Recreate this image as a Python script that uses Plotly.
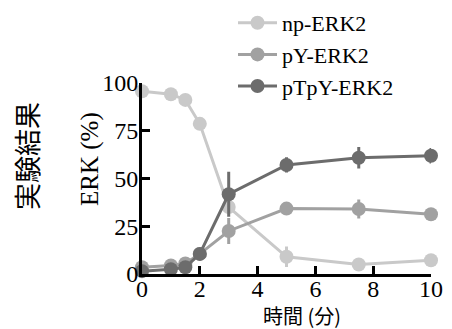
import plotly.graph_objects as go

time_min = [0, 1, 1.5, 2, 3, 5, 7.5, 10]
np_erk2 = [95.5, 94, 91, 78.5, 35, 9, 5, 7.2]
np_err = [1, 1, 1.5, 1.5, 3, 5.4, 1.5, 1.5]
py_erk2 = [3.5, 4.5, 5.5, 10.5, 22.5, 34.2, 34, 31.2]
py_err = [0.5, 0.5, 0.5, 1, 6.8, 1.5, 5, 1.5]
ptpy_erk2 = [1.5, 2.5, 3.5, 10.5, 41.7, 57, 60.8, 61.8]
ptpy_err = [0.5, 0.5, 0.5, 1, 11.8, 4, 5.6, 4]

series = [
    ("np-ERK2", np_erk2, np_err, "#c9c9c9"),
    ("pY-ERK2", py_erk2, py_err, "#a1a1a1"),
    ("pTpY-ERK2", ptpy_erk2, ptpy_err, "#6c6c6c"),
]

x_ticks = [0, 2, 4, 6, 8, 10]
y_ticks = [0, 25, 50, 75, 100]

SERIF = "Liberation Serif, Times New Roman, serif"
CJK = "Noto Sans CJK JP"
W, H = 452, 329

fig = go.Figure()
for name, vals, errs, col in series:
    fig.add_trace(go.Scatter(
        x=time_min, y=vals, name=name, mode="lines+markers",
        line=dict(color=col, width=3),
        marker=dict(color=col, size=14),
        error_y=dict(type="data", array=errs, color=col, thickness=3, width=0),
        cliponaxis=False,
    ))

fig.update_layout(
    width=W, height=H,
    margin=dict(l=0, r=0, t=0, b=0, autoexpand=False),
    paper_bgcolor="white", plot_bgcolor="white",
    showlegend=True,
    legend=dict(
        x=233 / W, y=1 - 2 / H, xanchor="left", yanchor="top",
        font=dict(family=SERIF, size=22, color="#000"),
        bgcolor="rgba(0,0,0,0)", tracegroupgap=0,
        itemwidth=39,
    ),
    font=dict(family=SERIF, size=24, color="#000"),
)
fig.update_xaxes(
    domain=[142 / W, 431 / W],
    range=[0, 10], tickvals=x_ticks, showgrid=False, zeroline=False,
    showline=True, linecolor="black", linewidth=3,
    ticks="inside", ticklen=8, tickwidth=3, tickcolor="black",
    tickfont=dict(family=SERIF, size=24, color="#000"),
    ticklabelstandoff=-9,
    automargin=False,
)
fig.update_yaxes(
    domain=[1 - 274 / H, 1 - 82.7 / H],
    range=[0, 100], tickvals=y_ticks, showgrid=False, zeroline=False,
    showline=True, linecolor="black", linewidth=3,
    ticks="inside", ticklen=8, tickwidth=3, tickcolor="black",
    tickfont=dict(family=SERIF, size=24, color="#000"),
    ticklabelstandoff=-4,
    automargin=False,
)

fig.add_annotation(text="時間 (分)", xref="paper", yref="paper",
                   x=302 / W, y=1 - 315.5 / H,
                   xanchor="center", yanchor="middle", showarrow=False,
                   font=dict(family=CJK, size=20, color="#000"))
fig.add_annotation(text="ERK (%)", xref="paper", yref="paper",
                   x=90 / W, y=1 - 159 / H,
                   xanchor="center", yanchor="middle", showarrow=False,
                   textangle=-90,
                   font=dict(family=SERIF, size=25, color="#000"))
fig.add_annotation(text="実験結果", xref="paper", yref="paper",
                   x=27 / W, y=1 - 156 / H,
                   xanchor="center", yanchor="middle", showarrow=False,
                   textangle=-90,
                   font=dict(family=CJK, size=27, color="#000"))

fig.write_html("out.html",
               config={"displayModeBar": False},
               post_script="document.body.style.margin='0';document.body.style.overflow='hidden';")
